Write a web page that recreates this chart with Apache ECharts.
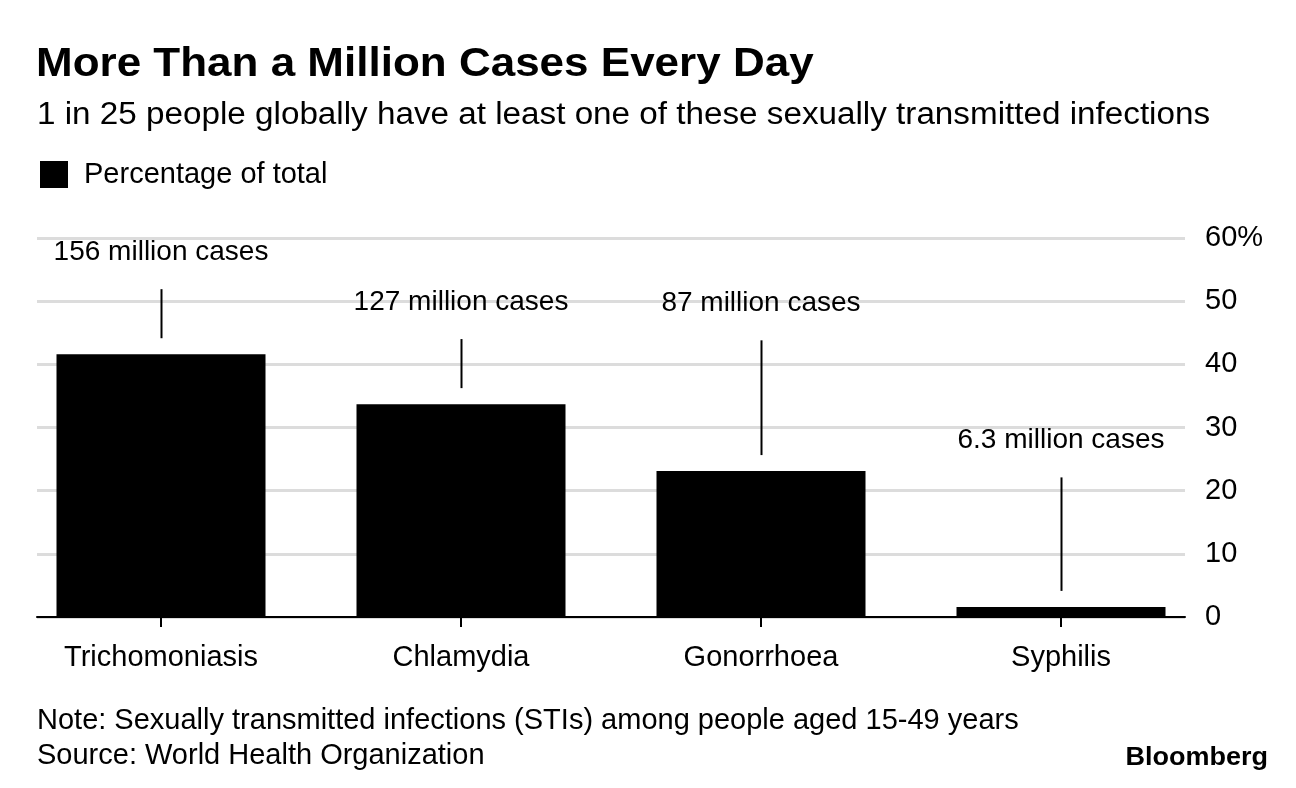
<!DOCTYPE html>
<html><head><meta charset="utf-8">
<script src="https://cdn.jsdelivr.net/npm/echarts@6/dist/echarts.min.js"></script>
<style>html,body{margin:0;padding:0;background:#fff}#c{width:1296px;height:788px}</style>
</head><body><div id="c"></div>
<script>
const categories = ['Trichomoniasis', 'Chlamydia', 'Gonorrhoea', 'Syphilis'];
const shareOfTotal = [41.6, 33.7, 23.1, 1.6];
const calloutLabels = ['156 million cases', '127 million cases', '87 million cases', '6.3 million cases'];
const calloutTop = [51.9, 44.0, 43.8, 22.1];
const yTickLabels = { 0: '0', 10: '10', 20: '20', 30: '30', 40: '40', 50: '50', 60: '60%' };

const FONT = '"Liberation Sans", Arial, Helvetica, sans-serif';
const chart = echarts.init(document.getElementById('c'), null, { renderer: 'canvas' });

const option = {
  animation: false,
  backgroundColor: '#ffffff',
  textStyle: { fontFamily: FONT },
  legend: {
    left: 40, top: 160, padding: 0, itemWidth: 28, itemHeight: 27, icon: 'rect',
    selectedMode: false,
    data: ['Percentage of total'],
    textStyle: { fontSize: 29, color: '#000', fontFamily: FONT, padding: [0, 0, 0, 11] }
  },
  grid: [
    { left: 37, right: 111, top: 238, bottom: 171 },
    { left: 11, right: 85, top: 238, bottom: 171 }
  ],
  xAxis: [
    { gridIndex: 0, type: 'value', min: 0, max: 1,
      axisLine: { show: true, lineStyle: { color: '#000', width: 2 } },
      axisTick: { show: false }, axisLabel: { show: false }, splitLine: { show: false } },
    { gridIndex: 1, type: 'category', data: categories, boundaryGap: true,
      axisLine: { show: false },
      axisTick: { show: true, alignWithLabel: true, length: 10, lineStyle: { color: '#000', width: 2 } },
      axisLabel: { fontSize: 29, color: '#000', fontFamily: FONT, margin: 26 },
      splitLine: { show: false } }
  ],
  yAxis: [
    { gridIndex: 0, type: 'value', position: 'right', min: 0, max: 60, interval: 10,
      axisLine: { show: false }, axisTick: { show: false },
      axisLabel: { fontSize: 29, color: '#000', fontFamily: FONT, margin: 20,
        formatter: v => yTickLabels[v] },
      splitLine: { show: true, lineStyle: { color: '#dcdcdc', width: 3 } } },
    { gridIndex: 1, type: 'value', min: 0, max: 60, show: false }
  ],
  series: [
    { name: 'Percentage of total', type: 'bar', xAxisIndex: 1, yAxisIndex: 1,
      data: shareOfTotal, barWidth: 209, itemStyle: { color: '#000' }, z: 3 },
    { name: 'callouts', type: 'custom', xAxisIndex: 1, yAxisIndex: 1,
      data: categories.map((c, i) => [i, shareOfTotal[i], calloutTop[i]]),
      encode: { x: 0, y: 1 }, clip: false, z: 4, silent: true,
      renderItem: function (params, api) {
        const base = api.coord([api.value(0), api.value(1)]);
        const top = api.coord([api.value(0), api.value(2)]);
        const x = Math.round(base[0]) + 0.5;
        return {
          type: 'group',
          children: [
            { type: 'line', shape: { x1: x, y1: base[1] - 16, x2: x, y2: top[1] },
              style: { stroke: '#000', lineWidth: 2 } },
            { type: 'text', style: { text: calloutLabels[params.dataIndex], x: base[0], y: top[1] - 37,
              align: 'center', verticalAlign: 'middle', fontSize: 28, fontFamily: FONT, fill: '#000' } }
          ]
        };
      }
    }
  ],
  graphic: [
    { type: 'text', x: 36, y: 65, scaleX: 1.10,
      style: { text: 'More Than a Million Cases Every Day', font: 'bold 40px ' + FONT, fill: '#000', verticalAlign: 'middle' } },
    { type: 'text', x: 37, y: 115, scaleX: 1.072,
      style: { text: '1 in 25 people globally have at least one of these sexually transmitted infections', font: '31px ' + FONT, fill: '#000', verticalAlign: 'middle' } },
    { type: 'text', x: 37, y: 721,
      style: { text: 'Note: Sexually transmitted infections (STIs) among people aged 15-49 years', font: '29px ' + FONT, fill: '#000', verticalAlign: 'middle' } },
    { type: 'text', x: 37, y: 756,
      style: { text: 'Source: World Health Organization', font: '29px ' + FONT, fill: '#000', verticalAlign: 'middle' } },
    { type: 'text', x: 1268, y: 758, scaleX: 1.08,
      style: { text: 'Bloomberg', font: 'bold 25px ' + FONT, fill: '#000', align: 'right', verticalAlign: 'middle' } }
  ]
};
chart.setOption(option);
</script>
</body></html>
